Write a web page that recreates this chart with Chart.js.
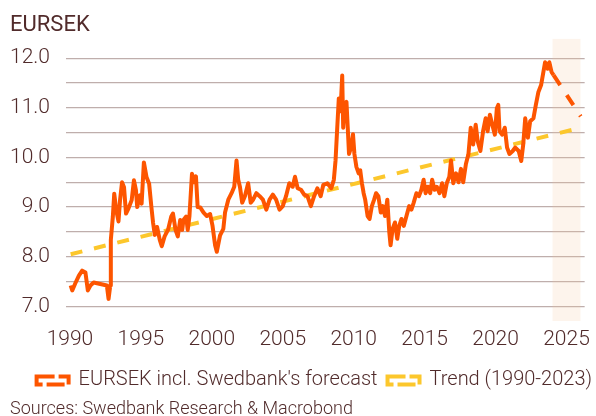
<!DOCTYPE html>
<html>
<head>
<meta charset="utf-8">
<script src="https://cdn.jsdelivr.net/npm/chart.js@4.4.1/dist/chart.umd.min.js"></script>
<style>
  html, body { margin: 0; padding: 0; background: #ffffff; }
  #wrap { width: 596px; height: 416px; position: relative; }
</style>
</head>
<body>
<div id="wrap"><canvas id="eursek"></canvas></div>
<script>
// EURSEK (decimal year / value), last point = Swedbank forecast end
const years = [
  1990.05, 1990.16, 1990.40, 1990.63, 1990.86, 1991.09, 1991.26, 1991.44, 1991.67, 1992.14,
  1992.60, 1992.72, 1992.84, 1992.88, 1993.02, 1993.12, 1993.26, 1993.42, 1993.53, 1993.67,
  1993.81, 1993.95, 1994.12, 1994.35, 1994.51, 1994.65, 1994.74, 1994.93, 1995.05, 1995.21,
  1995.40, 1995.58, 1995.74, 1995.86, 1995.98, 1996.14, 1996.33, 1996.47, 1996.67, 1996.91,
  1997.14, 1997.26, 1997.44, 1997.60, 1997.77, 1997.91, 1998.00, 1998.19, 1998.30, 1998.42,
  1998.60, 1998.75, 1998.88, 1999.00, 1999.19, 1999.42, 1999.65, 1999.88, 2000.05, 2000.23,
  2000.35, 2000.58, 2000.81, 2000.93, 2001.16, 2001.39, 2001.58, 2001.74, 2001.86, 2001.98,
  2002.14, 2002.33, 2002.56, 2002.74, 2002.91, 2003.14, 2003.37, 2003.60, 2003.84, 2004.07,
  2004.30, 2004.53, 2004.77, 2005.00, 2005.23, 2005.46, 2005.70, 2005.86, 2006.05, 2006.28,
  2006.51, 2006.74, 2006.98, 2007.21, 2007.44, 2007.67, 2007.86, 2008.14, 2008.42, 2008.60,
  2008.72, 2008.84, 2008.95, 2009.07, 2009.19, 2009.26, 2009.35, 2009.49, 2009.58, 2009.67,
  2009.81, 2009.95, 2010.05, 2010.19, 2010.35, 2010.46, 2010.58, 2010.70, 2010.81, 2010.98,
  2011.12, 2011.28, 2011.44, 2011.58, 2011.74, 2011.91, 2012.05, 2012.21, 2012.37, 2012.51,
  2012.60, 2012.74, 2012.91, 2013.07, 2013.21, 2013.37, 2013.53, 2013.72, 2013.91, 2014.07,
  2014.23, 2014.42, 2014.60, 2014.77, 2014.93, 2015.07, 2015.23, 2015.39, 2015.53, 2015.70,
  2015.86, 2016.05, 2016.23, 2016.39, 2016.56, 2016.74, 2016.86, 2017.02, 2017.21, 2017.39,
  2017.56, 2017.72, 2017.91, 2018.09, 2018.25, 2018.42, 2018.60, 2018.74, 2018.93, 2019.12,
  2019.30, 2019.44, 2019.60, 2019.77, 2019.95, 2020.09, 2020.19, 2020.28, 2020.46, 2020.65,
  2020.81, 2020.98, 2021.21, 2021.39, 2021.63, 2021.81, 2021.95, 2022.09, 2022.28, 2022.44,
  2022.67, 2022.84, 2023.02, 2023.21, 2023.37, 2023.49, 2023.67, 2023.79, 2023.95, 2024.09,
  2026.00
];
const eursek = [
  7.42, 7.32, 7.48, 7.62, 7.72, 7.68, 7.32, 7.42, 7.48, 7.45,
  7.42, 7.15, 7.42, 8.34, 8.80, 9.27, 8.94, 8.71, 9.14, 9.50,
  9.40, 8.87, 8.97, 9.14, 9.54, 9.34, 9.00, 9.24, 9.07, 9.90,
  9.60, 9.47, 9.00, 8.68, 8.44, 8.60, 8.34, 8.21, 8.41, 8.54,
  8.81, 8.87, 8.54, 8.41, 8.74, 8.54, 8.74, 8.81, 8.54, 8.81,
  9.67, 9.50, 9.62, 9.00, 8.99, 8.89, 8.82, 8.86, 8.62, 8.23,
  8.10, 8.43, 8.56, 8.89, 9.15, 9.28, 9.41, 9.94, 9.55, 9.41,
  9.09, 9.22, 9.48, 9.09, 9.15, 9.28, 9.22, 9.15, 8.95, 9.15,
  9.25, 9.15, 8.95, 9.02, 9.22, 9.48, 9.41, 9.61, 9.38, 9.35,
  9.25, 9.22, 9.02, 9.22, 9.38, 9.22, 9.45, 9.48, 9.38, 9.55,
  9.94, 10.60, 11.19, 10.93, 11.65, 10.60, 11.06, 11.12, 10.60, 10.07,
  10.20, 10.47, 10.07, 9.81, 9.68, 9.74, 9.48, 9.28, 9.15, 8.82,
  8.76, 9.02, 9.15, 9.28, 9.22, 8.89, 9.02, 8.82, 9.15, 8.49,
  8.23, 8.56, 8.69, 8.36, 8.62, 8.76, 8.62, 8.82, 9.02, 8.95,
  9.09, 9.28, 9.22, 9.35, 9.55, 9.28, 9.41, 9.28, 9.55, 9.35,
  9.41, 9.28, 9.48, 9.22, 9.48, 9.61, 9.94, 9.48, 9.68, 9.50,
  9.77, 9.50, 9.87, 10.07, 10.60, 10.26, 10.66, 10.33, 10.13, 10.53,
  10.79, 10.53, 10.86, 10.66, 10.46, 10.99, 11.06, 10.53, 10.46, 10.60,
  10.20, 10.07, 10.13, 10.20, 10.13, 9.93, 10.26, 10.79, 10.40, 10.73,
  10.79, 11.06, 11.32, 11.46, 11.72, 11.92, 11.79, 11.92, 11.72, 11.66,
  10.83
];
const forecastStart = 2024.09;

// linear trend 1990-2023, extended
const trendYears = [1990.05, 2026.0];
const trendValues = [8.05, 10.60];

// forecast period (shaded)
const shadeYears = [2024.0, 2026.0];
const shadeTop = [12.4, 12.4];

const xTicks = [1990, 1995, 2000, 2005, 2010, 2015, 2020, 2025];
const yTicks = [7, 7.5, 8, 8.5, 9, 9.5, 10, 10.5, 11, 11.5, 12];

const orange = "#fd5500";
const yellow = "#fcc72c";
const brown = "#512b2b";
const fontFamily = "Roboto, 'Noto Sans', sans-serif";

// nudge the legend row a bit to the right, like the original
const legendShift = {
  id: "legendShift",
  afterLayout(chart) {
    chart.legend.left += 12;
    chart.legend.right += 12;
  },
};

new Chart(document.getElementById("eursek"), {
  type: "line",
  data: {
    datasets: [
      {
        label: "EURSEK incl. Swedbank's forecast",
        data: years.map((x, i) => ({ x: x, y: eursek[i] })),
        borderColor: orange,
        backgroundColor: orange,
        borderWidth: 4,
        pointRadius: 0,
        tension: 0,
        borderJoinStyle: "round",
        segment: {
          borderDash: (ctx) => (ctx.p0.parsed.x >= forecastStart ? [12, 12] : undefined),
        },
        order: 1,
      },
      {
        label: "Trend (1990-2023)",
        data: trendYears.map((x, i) => ({ x: x, y: trendValues[i] })),
        borderColor: yellow,
        backgroundColor: yellow,
        borderWidth: 4,
        borderDash: [12, 12],
        pointRadius: 0,
        order: 2,
      },
      {
        label: "shade",
        data: shadeYears.map((x, i) => ({ x: x, y: shadeTop[i] })),
        borderWidth: 0,
        borderColor: "rgba(0,0,0,0)",
        backgroundColor: "rgba(245, 200, 160, 0.2)",
        fill: "start",
        pointRadius: 0,
        order: 3,
      },
    ],
  },
  plugins: [legendShift],
  options: {
    responsive: true,
    maintainAspectRatio: false,
    animation: false,
    layout: {
      padding: { left: 10, right: 6, top: 0, bottom: 0 },
    },
    scales: {
      x: {
        type: "linear",
        min: 1989.72,
        max: 2026.28,
        afterBuildTicks: (scale) => {
          scale.ticks = xTicks.map((v) => ({ value: v }));
        },
        afterFit: (scale) => {
          scale.height += 2;
        },
        grid: { display: false, drawTicks: false },
        border: { display: false },
        ticks: {
          padding: 6,
          maxRotation: 0,
          autoSkip: false,
          color: brown,
          font: { family: fontFamily, size: 21, weight: "300" },
          callback: (v) => String(v),
        },
      },
      y: {
        min: 6.7,
        max: 12.4,
        afterBuildTicks: (scale) => {
          scale.ticks = yTicks.map((v) => ({ value: v }));
        },
        afterFit: (scale) => {
          scale.width = 56;
        },
        grid: { color: "#bfaeac", lineWidth: 1.2, drawTicks: false },
        border: { display: false },
        ticks: {
          padding: 16,
          autoSkip: false,
          color: brown,
          font: { family: fontFamily, size: 21, weight: "300" },
          callback: (v) => (Number.isInteger(v) ? v.toFixed(1) : ""),
        },
      },
    },
    plugins: {
      title: {
        display: true,
        text: "EURSEK",
        align: "start",
        color: brown,
        font: { family: fontFamily, size: 22, weight: "400" },
        padding: { top: 12, bottom: 0 },
      },
      subtitle: {
        display: true,
        position: "bottom",
        text: "Sources: Swedbank Research & Macrobond",
        align: "start",
        color: brown,
        font: { family: fontFamily, size: 18, weight: "300" },
        padding: { top: -2, bottom: -4 },
      },
      legend: {
        position: "bottom",
        align: "end",
        labels: {
          color: brown,
          font: { family: fontFamily, size: 20, weight: "300" },
          boxWidth: 32,
          boxHeight: 8,
          padding: 10,
          generateLabels: (chart) =>
            chart.data.datasets.slice(0, 2).map((ds, i) => ({
              text: ds.label,
              fillStyle: "rgba(0,0,0,0)",
              strokeStyle: ds.borderColor,
              lineWidth: 4,
              lineDash: [18, 4],
              fontColor: brown,
              datasetIndex: i,
            })),
        },
      },
      tooltip: { enabled: false },
    },
  },
});
</script>
</body>
</html>
